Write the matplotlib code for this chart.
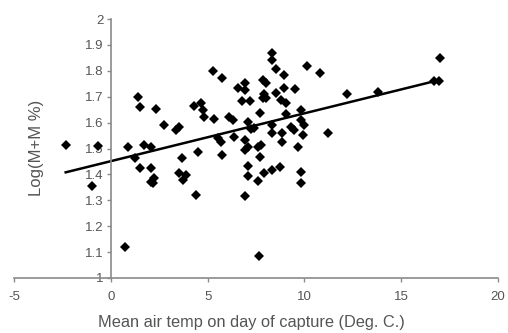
import numpy as np
import matplotlib
matplotlib.use("Agg")
import matplotlib.pyplot as plt

plt.rcParams['font.family'] = ['Liberation Sans', 'DejaVu Sans']

# Mean air temperature on day of capture (Deg. C.)
temp = [-2.33, -0.67, 0.88, 1.40, 1.50, 1.71, 2.07, 2.33, 2.75, 3.37, 3.52,
        1.24, 1.50, 2.07, 2.07, 2.23, 2.18, -0.98, 0.73, 3.68, 3.52, 3.89,
        3.73, 4.40, 4.51, 4.30, 4.66, 4.77, 4.82, 5.28, 5.75, 5.34, 5.54,
        5.70, 5.75, 6.11, 6.32, 6.37, 6.58, 6.94, 6.94, 6.79, 7.20, 7.10,
        7.25, 6.94, 7.10, 6.94, 7.10, 7.10, 6.94, 7.62, 7.67, 8.34, 8.34,
        8.55, 8.96, 10.16, 10.83, 7.88, 8.03, 8.96, 9.53, 8.55, 7.93, 7.88,
        8.03, 8.81, 9.07, 7.72, 9.07, 9.84, 7.41, 8.34, 8.34, 8.86, 8.86,
        9.33, 9.48, 9.84, 10.00, 9.95, 9.69, 11.24, 7.77, 7.62, 7.72, 7.93,
        8.34, 8.76, 9.84, 9.84, 12.18, 13.78, 16.99, 16.68, 16.94]

# Log(M+M %)
logmm = [1.514, 1.510, 1.506, 1.699, 1.660, 1.514, 1.506, 1.653, 1.591,
         1.571, 1.583, 1.463, 1.425, 1.425, 1.371, 1.386, 1.367, 1.355,
         1.120, 1.463, 1.405, 1.398, 1.378, 1.320, 1.486, 1.664, 1.676,
         1.649, 1.622, 1.799, 1.772, 1.614, 1.541, 1.525, 1.475, 1.622,
         1.610, 1.544, 1.734, 1.753, 1.726, 1.683, 1.683, 1.602, 1.575,
         1.533, 1.506, 1.494, 1.432, 1.394, 1.317, 1.375, 1.085, 1.869,
         1.842, 1.807, 1.784, 1.819, 1.792, 1.764, 1.753, 1.734, 1.730,
         1.714, 1.710, 1.695, 1.695, 1.687, 1.676, 1.637, 1.633, 1.649,
         1.579, 1.591, 1.560, 1.560, 1.525, 1.583, 1.571, 1.610, 1.591,
         1.552, 1.506, 1.560, 1.514, 1.506, 1.467, 1.405, 1.417, 1.429,
         1.409, 1.367, 1.710, 1.718, 1.849, 1.761, 1.761]

x_ticks = [-5, 0, 5, 10, 15, 20]
y_ticks = [1, 1.1, 1.2, 1.3, 1.4, 1.5, 1.6, 1.7, 1.8, 1.9, 2]
y_tick_labels = ['1', '1.1', '1.2', '1.3', '1.4', '1.5', '1.6', '1.7', '1.8', '1.9', '2']

fig = plt.figure(figsize=(5.08, 3.33), dpi=100)
ax = fig.add_axes([14/508, 55/333, 484/508, 259/333])

tx = np.array(temp)
ly = np.array(logmm)
ax.plot(tx, ly, linestyle='none', marker='D', markersize=5.6,
        color='black', markeredgewidth=0)

coef = np.polyfit(tx, ly, 1)
xl = np.array([tx.min(), tx.max()])
ax.plot(xl, np.polyval(coef, xl), color='black', linewidth=1.8)

gray_axis = '#8a8a8a'
text_col = '#555555'
ax.set_xlim(-5, 20)
ax.set_ylim(1, 2)
ax.spines['top'].set_visible(False)
ax.spines['right'].set_visible(False)
ax.spines['left'].set_position(('data', 0))
ax.spines['bottom'].set_position(('data', 1))
ax.spines['left'].set_color(gray_axis)
ax.spines['bottom'].set_color(gray_axis)
ax.spines['left'].set_linewidth(1.2)
ax.spines['bottom'].set_linewidth(1.2)
ax.set_xticks(x_ticks)
ax.set_xticklabels([str(v) for v in x_ticks])
ax.set_yticks(y_ticks)
ax.set_yticklabels(y_tick_labels)
ax.tick_params(axis='both', direction='out', length=3, width=1,
               color=gray_axis, labelcolor=text_col, labelsize=9.5, pad=2)
ax.tick_params(axis='x', pad=6)

fig.text(98/508, 1 - 322/333, 'Mean air temp on day of capture (Deg. C.)',
         fontsize=11.8, color=text_col, ha='left', va='center')
fig.text(36/508, 1 - 148/333, 'Log(M+M %)', fontsize=12, color=text_col,
         rotation=90, ha='center', va='center')

fig.savefig('out.png', dpi=100, facecolor='white')
